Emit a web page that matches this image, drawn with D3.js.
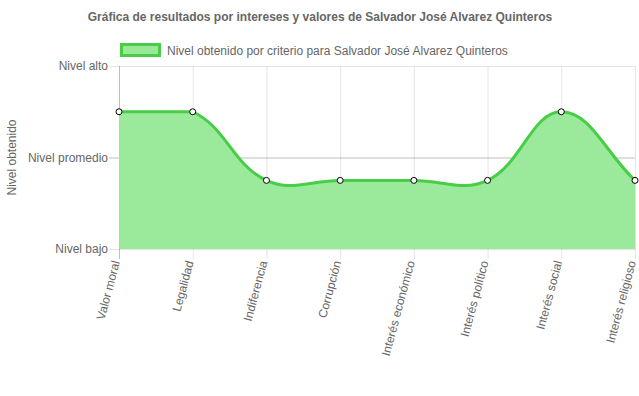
<!DOCTYPE html>
<html>
<head>
<meta charset="utf-8">
<script src="https://cdn.jsdelivr.net/npm/d3@7"></script>
<style>
  body { margin: 0; background: #fff; }
  svg text { font-family: "Liberation Sans", Arial, Helvetica, sans-serif; fill: #666; }
</style>
</head>
<body>
<svg id="chart" width="639" height="396"></svg>
<script>
// data
let categories = ['Valor moral', 'Legalidad', 'Indiferencia', 'Corrupción', 'Interés económico', 'Interés político', 'Interés social', 'Interés religioso'];
let values = [0.5, 0.5, -0.25, -0.25, -0.25, -0.25, 0.5, -0.25];
let yTickValues = [-1, 0, 1];
let yTickLabels = ['Nivel bajo', 'Nivel promedio', 'Nivel alto'];
let title = 'Gráfica de resultados por intereses y valores de Salvador José Alvarez Quinteros';
let seriesName = 'Nivel obtenido por criterio para Salvador José Alvarez Quinteros';
let yTitle = 'Nivel obtenido';

let svg = d3.select('#chart');
let plotLeft = 119, plotRight = 635, plotTop = 66, plotBottom = 249;

let x = d3.scalePoint().domain(categories).range([plotLeft, plotRight]);
let y = d3.scaleLinear().domain([-1, 1]).range([plotBottom, plotTop]);

let lineColor = '#48cd48';
let fillColor = '#98e898';

// title
svg.append('text')
  .attr('x', 320).attr('y', 21)
  .attr('text-anchor', 'middle')
  .style('font-size', '12px').style('font-weight', 'bold')
  .text(title);

// legend
svg.append('rect')
  .attr('x', 121.5).attr('y', 44.5).attr('width', 38).attr('height', 11)
  .attr('fill', fillColor).attr('stroke', lineColor).attr('stroke-width', 3);
svg.append('text')
  .attr('x', 167).attr('y', 54.5)
  .style('font-size', '12px')
  .text(seriesName);

// grid
let grid = svg.append('g');
grid.selectAll('line.v')
  .data(categories)
  .enter().append('line')
  .attr('x1', d => x(d) + 0.5).attr('x2', d => x(d) + 0.5)
  .attr('y1', plotTop).attr('y2', plotBottom + 10)
  .attr('stroke', (d, i) => i === 0 ? 'rgba(0,0,0,0.25)' : 'rgba(0,0,0,0.1)');
grid.selectAll('line.h')
  .data(yTickValues)
  .enter().append('line')
  .attr('x1', plotLeft - 10).attr('x2', plotRight)
  .attr('y1', d => y(d) + 0.5).attr('y2', d => y(d) + 0.5)
  .attr('stroke', d => d === 0 ? 'rgba(0,0,0,0.25)' : 'rgba(0,0,0,0.1)');

// chart.js style spline, control points capped to the data's extent
let pts = categories.map((c, i) => ({ x: x(c), y: y(values[i]) }));
let capTop = y(d3.max(values));
let t = 0.4;
pts.forEach((p, i) => {
  let prev = pts[i - 1] || p, next = pts[i + 1] || p;
  let d01 = Math.hypot(p.x - prev.x, p.y - prev.y);
  let d12 = Math.hypot(next.x - p.x, next.y - p.y);
  let s01 = d01 / (d01 + d12) || 0, s12 = d12 / (d01 + d12) || 0;
  let fa = t * s01, fb = t * s12;
  p.c1x = p.x - fa * (next.x - prev.x);
  p.c1y = Math.max(capTop, Math.min(plotBottom, p.y - fa * (next.y - prev.y)));
  p.c2x = p.x + fb * (next.x - prev.x);
  p.c2y = Math.max(capTop, Math.min(plotBottom, p.y + fb * (next.y - prev.y)));
});

function splinePath(ctx) {
  ctx.moveTo(pts[0].x, pts[0].y);
  for (let i = 1; i < pts.length; i++) {
    ctx.bezierCurveTo(pts[i - 1].c2x, pts[i - 1].c2y, pts[i].c1x, pts[i].c1y, pts[i].x, pts[i].y);
  }
  return ctx;
}

let area = splinePath(d3.path());
area.lineTo(pts[pts.length - 1].x, y(-1));
area.lineTo(pts[0].x, y(-1));
area.closePath();

svg.append('path')
  .attr('d', area.toString())
  .attr('fill', fillColor)
  .attr('fill-opacity', 0.97);

svg.append('path')
  .attr('d', splinePath(d3.path()).toString())
  .attr('fill', 'none')
  .attr('stroke', lineColor)
  .attr('stroke-width', 3);

svg.selectAll('circle')
  .data(pts)
  .enter().append('circle')
  .attr('cx', d => d.x).attr('cy', d => d.y)
  .attr('r', 3)
  .attr('fill', '#fff').attr('stroke', '#000').attr('stroke-width', 1);

// y axis labels
svg.selectAll('text.ytick')
  .data(yTickValues)
  .enter().append('text')
  .attr('x', plotLeft - 11).attr('y', d => y(d) + 4)
  .attr('text-anchor', 'end')
  .style('font-size', '12px')
  .text((d, i) => yTickLabels[i]);

svg.append('text')
  .attr('transform', 'translate(16,' + (plotTop + plotBottom) / 2 + ') rotate(-90)')
  .attr('text-anchor', 'middle')
  .style('font-size', '12px')
  .text(yTitle);

// x axis labels
svg.selectAll('text.xtick')
  .data(categories)
  .enter().append('text')
  .attr('transform', d => 'translate(' + (x(d) + 1) + ',' + (plotBottom + 13) + ') rotate(-75)')
  .attr('text-anchor', 'end')
  .style('font-size', '12px')
  .text(d => d);
</script>
</body>
</html>
